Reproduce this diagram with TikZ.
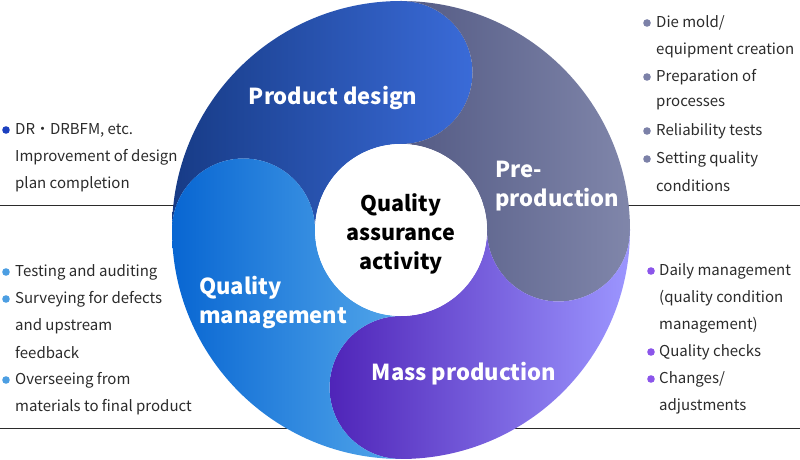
\documentclass[tikz,border=0pt]{standalone}
\usepackage{fontspec}
\setmainfont{Noto Sans CJK KR}
\usetikzlibrary{positioning}

% segment colours (left / right end of each gradient)
\definecolor{designL}{HTML}{173B86}
\definecolor{designR}{HTML}{3A6BD8}
\definecolor{preL}{HTML}{535A84}
\definecolor{preR}{HTML}{8086AA}
\definecolor{massL}{HTML}{4F24B8}
\definecolor{massR}{HTML}{9C96FF}
\definecolor{qualL}{HTML}{0866D2}
\definecolor{qualR}{HTML}{52A6EA}
% bullet colours
\definecolor{designDot}{HTML}{1B3FBF}
\definecolor{preDot}{HTML}{7C81A8}
\definecolor{massDot}{HTML}{8B55EA}
\definecolor{qualDot}{HTML}{4C9EE2}
\definecolor{notegray}{HTML}{2B2B2B}

\tikzset{
  stage/.style={text=white, font=\bfseries\fontsize{22}{29}\selectfont, align=left, inner sep=0pt},
  note/.style={anchor=west, text=notegray, font=\fontsize{15}{27}\selectfont, inner sep=0pt},
}

\begin{document}
\begin{tikzpicture}[x=1pt,y=1pt]
  \useasboundingbox (0,0) rectangle (800,460);
  \coordinate (C) at (401,230);

  % rules behind the wheel
  \draw[notegray, line width=0.8pt] (0,255) -- (800,255);
  \draw[notegray, line width=0.8pt] (0,32) -- (800,32);

  % four swirl segments
  \foreach \a/\cl/\cr in {180/designL/designR, 90/preL/preR, 0/massL/massR, -90/qualL/qualR}
    \path[left color=\cl, right color=\cr]
      ([shift={(\a:229)}]C)
      arc[start angle=\a, end angle=\a-90, radius=229]
      arc[start angle=\a-90, end angle=\a-270, radius=71.5]
      arc[start angle=\a-90, end angle=\a, radius=86]
      arc[start angle=\a-180, end angle=\a, radius=71.5] -- cycle;

  \node[circle, fill=white, minimum size=172pt, inner sep=0pt] (core) at (C) {};
  \node[align=center, inner sep=0pt, font=\bfseries\fontsize{21.5}{29}\selectfont]
    (coretext) at (401,226) {Quality\\assurance\\activity};

  \node[stage] (design) at (333,362) {Product design};
  \node[stage, anchor=west] (pre) at (495,274) {Pre-\\production};
  \node[stage, anchor=west] (manage) at (199,158) {Quality\\management};
  \node[stage] (mass) at (464,86) {Mass production};

  % notes: product design
  \foreach \y/\t [count=\i] in {330/{DR・DRBFM, etc.}, 303/{Improvement of design}, 276/{plan completion}}
    \node[note] (designnote\i) at (15,\y) {\t};
  \fill[designDot] (6,330) circle (3.8);

  % notes: quality management
  \foreach \y/\t [count=\i] in {188/{Testing and auditing}, 161/{Surveying for defects}, 134/{and upstream},
                                107/{feedback}, 80/{Overseeing from}, 53/{materials to final product}}
    \node[note] (qualnote\i) at (15,\y) {\t};
  \foreach \y in {188,161,80}
    \fill[qualDot] (6,\y) circle (3.8);

  % notes: pre-production
  \foreach \y/\t [count=\i] in {437/{Die mold/}, 410/{equipment creation}, 383/{Preparation of},
                                356/{processes}, 329/{Reliability tests}, 301/{Setting quality}, 274/{conditions}}
    \node[note] (prenote\i) at (656,\y) {\t};
  \foreach \y in {437,383,329,301}
    \fill[preDot] (647,\y) circle (3.8);

  % notes: mass production
  \foreach \y/\t [count=\i] in {189/{Daily management}, 162/{(quality condition}, 135/{management)},
                                108/{Quality checks}, 81/{Changes/}, 54/{adjustments}}
    \node[note] (massnote\i) at (659,\y) {\t};
  \foreach \y in {189,108,81}
    \fill[massDot] (651,\y) circle (3.8);
\end{tikzpicture}
\end{document}
